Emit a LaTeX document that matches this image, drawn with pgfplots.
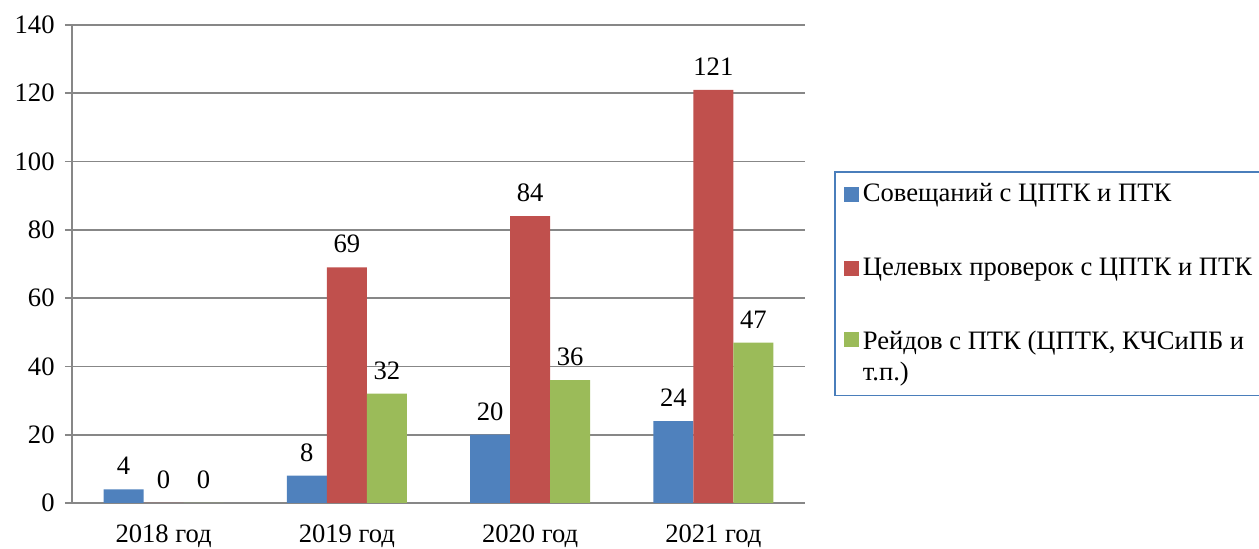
\documentclass[12pt,border=0pt]{standalone}
\usepackage{fontspec}
\setmainfont{Liberation Serif}
\usepackage{pgfplots}
\pgfplotsset{compat=1.18}
\pgfplotsset{highsq/.style={legend image code/.code={\fill[##1] (0pt,5pt) rectangle (7.5pt,12.5pt);}}}
\definecolor{cblue}{HTML}{4F81BD}
\definecolor{cred}{HTML}{C0504D}
\definecolor{cgreen}{HTML}{9BBB59}
\definecolor{cgrid}{HTML}{878787}
\definecolor{cleg}{HTML}{4A7EBB}
\begin{document}
\begin{tikzpicture}
\path[use as bounding box] (-36pt,-23pt) rectangle (593.5pt,251.5pt);
\begin{axis}[
  at={(0,0)}, anchor=south west,
  scale only axis, width=366.5pt, height=239pt,
  /pgf/number format/assume math mode=true,
  font=\fontsize{13.3}{15.5}\selectfont,
  ybar=0pt, bar width=20pt,
  xmin=-0.5, xmax=3.5, ymin=0, ymax=140,
  ytick={0,20,...,140},
  xtick={0,1,2,3},
  xticklabels={2018 год,2019 год,2020 год,2021 год},
  major x tick style={draw=none},
  extra x ticks={-0.5,0.5,1.5,2.5,3.5},
  extra x tick labels={},
  extra x tick style={major tick length=3pt, tick style={draw=cgrid, line width=0.8pt}},
  axis x line*=bottom, axis y line*=left,
  axis line style={draw=cgrid, line width=0.8pt},
  tick align=outside,
  major tick length=3.5pt,
  tick style={draw=cgrid, line width=0.8pt},
  ymajorgrids, grid style={draw=cgrid, line width=0.8pt},
  xticklabel style={yshift=-3pt},
  yticklabel style={xshift=-1pt},
  nodes near coords,
  every node near coord/.append style={font=\fontsize{13.3}{15.5}\selectfont, black, yshift=3pt},
  legend cell align=left,
  legend image code/.code={\fill[#1] (0pt,-3.75pt) rectangle (7.5pt,3.75pt);},
  legend style={at={(rel axis cs:1.0396,0.6946)}, anchor=north west,
    draw=cleg, line width=0.8pt, font=\fontsize{13.3}{15.5}\selectfont,
    cells={align=left}, row sep=22pt, inner xsep=4.5pt, inner ysep=4pt},
]
\addplot[fill=cblue, draw=none] coordinates {(0,4) (1,8) (2,20) (3,24)};
\addplot[fill=cred, draw=none] coordinates {(0,0) (1,69) (2,84) (3,121)};
\addplot[fill=cgreen, draw=none, highsq] coordinates {(0,0) (1,32) (2,36) (3,47)};
\legend{{Совещаний с ЦПТК и ПТК}, {Целевых проверок с ЦПТК и ПТК\hspace*{10pt}}, {Рейдов с ПТК (ЦПТК, КЧСиПБ и\\т.п.)}}
\end{axis}
\end{tikzpicture}
\end{document}
